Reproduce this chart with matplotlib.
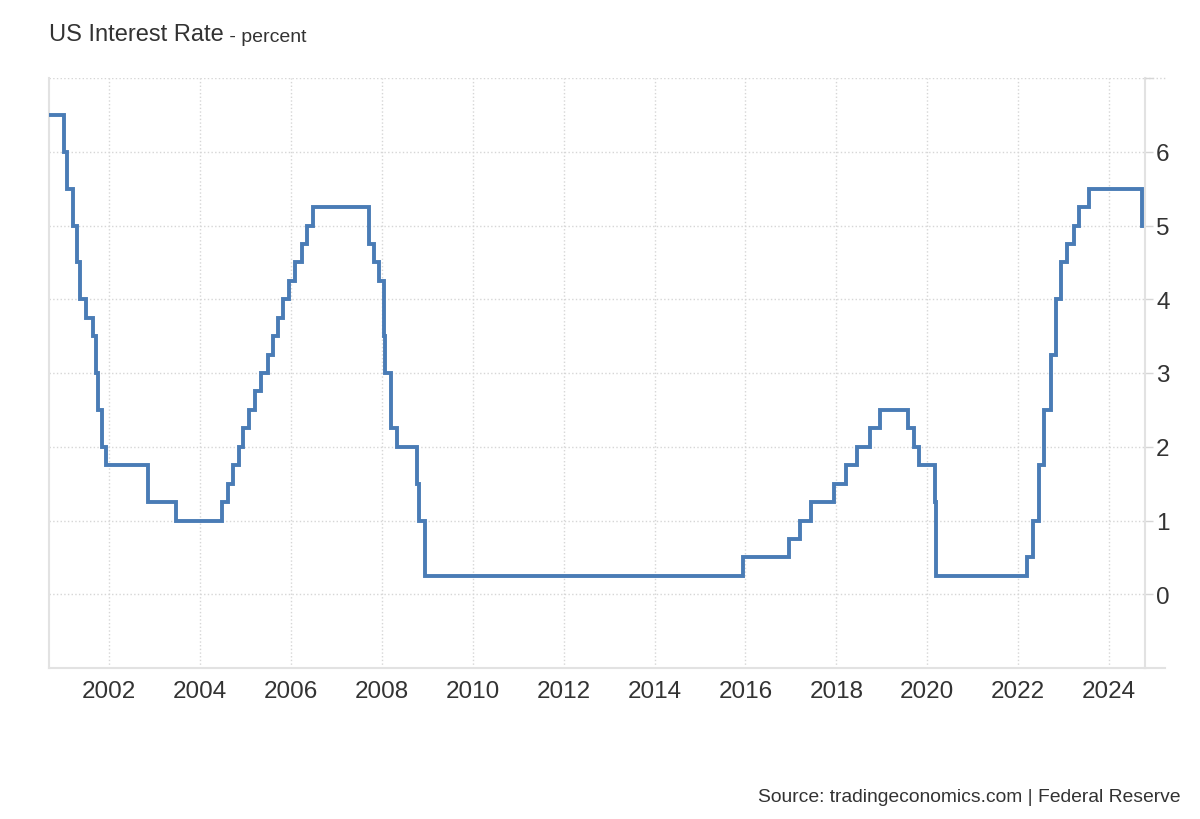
import pandas as pd
import matplotlib
matplotlib.use('Agg')
import matplotlib.pyplot as plt
import matplotlib.dates as mdates
from matplotlib.lines import Line2D

plt.rcParams['font.family'] = ['Liberation Sans', 'DejaVu Sans']

# fed funds target rate (upper bound), change dates
dates = ['2000-09-05', '2001-01-03', '2001-01-31', '2001-03-20', '2001-04-18',
         '2001-05-15', '2001-06-27', '2001-08-21', '2001-09-17', '2001-10-02',
         '2001-11-06', '2001-12-11', '2002-11-06', '2003-06-25', '2004-06-30',
         '2004-08-10', '2004-09-21', '2004-11-10', '2004-12-14', '2005-02-02',
         '2005-03-22', '2005-05-03', '2005-06-30', '2005-08-09', '2005-09-20',
         '2005-11-01', '2005-12-13', '2006-01-31', '2006-03-28', '2006-05-10',
         '2006-06-29', '2007-09-18', '2007-10-31', '2007-12-11', '2008-01-22',
         '2008-01-30', '2008-03-18', '2008-04-30', '2008-10-08', '2008-10-29',
         '2008-12-16', '2015-12-16', '2016-12-14', '2017-03-15', '2017-06-14',
         '2017-12-13', '2018-03-21', '2018-06-13', '2018-09-26', '2018-12-19',
         '2019-07-31', '2019-09-18', '2019-10-30', '2020-03-03', '2020-03-15',
         '2022-03-16', '2022-05-04', '2022-06-15', '2022-07-27', '2022-09-21',
         '2022-11-02', '2022-12-14', '2023-02-01', '2023-03-22', '2023-05-03',
         '2023-07-26', '2024-09-18']
rates = [6.5, 6.0, 5.5, 5.0, 4.5,
         4.0, 3.75, 3.5, 3.0, 2.5,
         2.0, 1.75, 1.25, 1.0, 1.25,
         1.5, 1.75, 2.0, 2.25, 2.5,
         2.75, 3.0, 3.25, 3.5, 3.75,
         4.0, 4.25, 4.5, 4.75, 5.0,
         5.25, 4.75, 4.5, 4.25, 3.5,
         3.0, 2.25, 2.0, 1.5, 1.0,
         0.25, 0.5, 0.75, 1.0, 1.25,
         1.5, 1.75, 2.0, 2.25, 2.5,
         2.25, 2.0, 1.75, 1.25, 0.25,
         0.5, 1.0, 1.75, 2.5, 3.25,
         4.0, 4.5, 4.75, 5.0, 5.25,
         5.5, 5.0]
years = list(range(2002, 2025, 2))
yvals = [0, 1, 2, 3, 4, 5, 6, 7]
ylabels = ['0', '1', '2', '3', '4', '5', '6', '']

W, H = 1200, 820
fig = plt.figure(figsize=(12, 8.2), dpi=100)
x0, x1, y0, y1 = 49, 1145, 79, 669
ax = fig.add_axes([x0 / W, 1 - y1 / H, (x1 - x0) / W, (y1 - y0) / H])

d = pd.to_datetime(dates)
ax.plot(d, rates, drawstyle='steps-post', color='#4a7cb6', lw=2.8,
        solid_joinstyle='miter', zorder=3)

gridc = '#d6d6d6'
ax.set_xlim(pd.Timestamp('2000-09-05'), pd.Timestamp('2024-10-16'))
ax.set_ylim(-1, 7)
ax.set_xticks([pd.Timestamp(f'{y}-01-01') for y in years])
ax.xaxis.set_major_formatter(mdates.DateFormatter('%Y'))
ax.set_yticks(yvals)
ax.set_yticklabels(ylabels)
ax.yaxis.tick_right()
ax.grid(True, color=gridc, linestyle=':', lw=1.0)
ax.tick_params(axis='x', length=0, pad=9, labelsize=17.5, labelcolor='#333333')
ax.tick_params(axis='y', length=6, width=1.0, color=gridc, pad=2,
               labelsize=17.5, labelcolor='#333333')

ax.spines['top'].set_visible(False)
for s in ['left', 'right', 'bottom']:
    ax.spines[s].set_color('#e2e2e2')
    ax.spines[s].set_linewidth(1.5)

# bottom axis line runs a little past the right axis
fig.add_artist(Line2D([x1 / W, 1165 / W], [1 - y1 / H, 1 - y1 / H],
                      color='#e2e2e2', lw=1.5))
fig.add_artist(Line2D([x1 / W, 1165 / W], [1 - y0 / H, 1 - y0 / H],
                      color=gridc, lw=1.0, linestyle=':'))

t1 = fig.text(49 / W, 1 - 41 / H, 'US Interest Rate', fontsize=17,
              color='#333333', va='baseline')
fig.canvas.draw()
ax.annotate(' - percent', xy=(1, 0), xycoords=t1, xytext=(0, 0),
            textcoords='offset points', va='bottom', fontsize=14,
            color='#333333', annotation_clip=False)

fig.text(1180 / W, 1 - 802 / H, 'Source: tradingeconomics.com | Federal Reserve',
         fontsize=13.9, color='#333333', ha='right', va='baseline')

fig.savefig('out.png', dpi=100, facecolor='white')
